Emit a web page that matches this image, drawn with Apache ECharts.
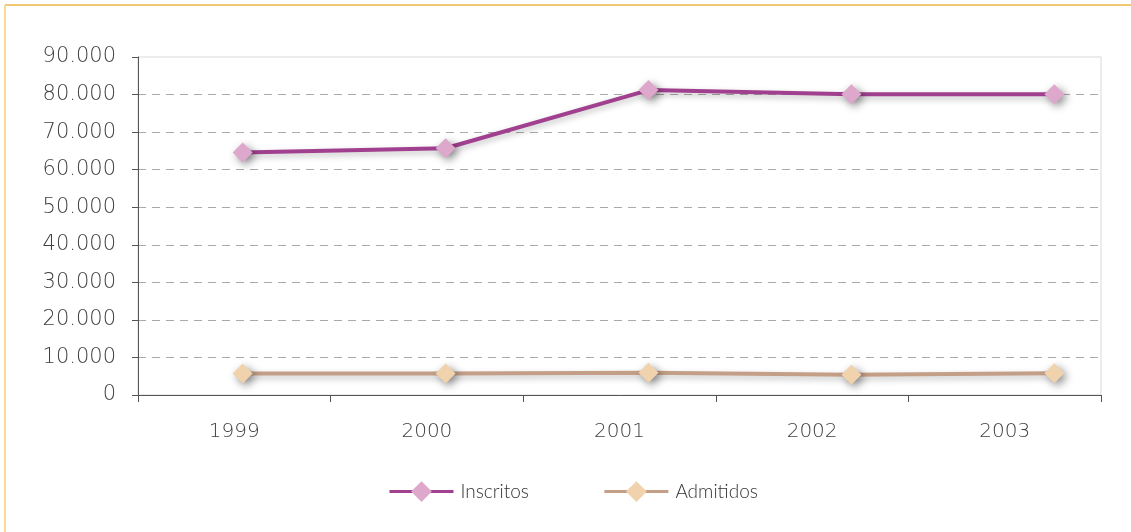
<!DOCTYPE html>
<html><head><meta charset="utf-8">
<script src="https://cdn.jsdelivr.net/npm/echarts@6/dist/echarts.min.js"></script>
<style>html,body{margin:0;padding:0;background:#fff}#c{width:1131px;height:532px}</style>
</head><body><div id="c"></div>
<script>
const categories = ['1999', '2000', '2001', '2002', '2003'];
const inscritos = [64600, 65700, 81200, 80100, 80100];
const admitidos = [5700, 5700, 5900, 5400, 5800];
const yTicks = [0, 10000, 20000, 30000, 40000, 50000, 60000, 70000, 80000, 90000];

const chart = echarts.init(document.getElementById('c'), null, {renderer: 'canvas'});
const font = 'DejaVu Sans';
const fw = 200;
const fmt = v => v === 0 ? '0' : String(v).replace(/\B(?=(\d{3})+(?!\d))/g, '.');
const yrs = categories.map(Number);
const shadow = {shadowBlur: 8, shadowColor: 'rgba(0,0,0,0.45)', shadowOffsetX: 3, shadowOffsetY: 3};

chart.setOption({
  animation: false,
  backgroundColor: '#fff',
  textStyle: {fontFamily: font, fontWeight: fw},
  graphic: [
    {type: 'line', shape: {x1: 5, y1: 5, x2: 1131, y2: 5}, style: {stroke: '#f0c873', lineWidth: 2}},
    {type: 'line', shape: {x1: 5, y1: 5, x2: 5, y2: 532}, style: {stroke: '#fbd995', lineWidth: 2}}
  ],
  grid: {left: 138, right: 30, top: 57, bottom: 137, show: true, borderColor: '#d9d9d9', borderWidth: 1},
  legend: {
    bottom: 25, left: 383, itemWidth: 64, itemHeight: 26, itemGap: 74,
    lineStyle: {width: 3},
    textStyle: {fontFamily: 'Lato', fontWeight: 300, fontSize: 19, color: '#333', padding: [0, 0, 0, 2]},
    data: ['Inscritos', 'Admitidos']
  },
  xAxis: [
    {
      type: 'category', data: categories, boundaryGap: true,
      axisLine: {lineStyle: {color: '#555', width: 1}},
      axisTick: {show: true, length: 7, lineStyle: {color: '#555'}},
      axisLabel: {margin: 27, fontSize: 20, color: '#404040', fontFamily: font, fontWeight: fw},
      splitLine: {show: false}
    },
    {type: 'value', show: false, min: 1998.484, max: 2003.23, gridIndex: 0}
  ],
  yAxis: {
    type: 'value', min: yTicks[0], max: yTicks[yTicks.length - 1], interval: yTicks[1] - yTicks[0],
    axisLine: {show: true, lineStyle: {color: '#555'}},
    axisTick: {show: true, length: 6, lineStyle: {color: '#555'}},
    axisLabel: {margin: 22, fontSize: 21, color: '#404040', fontFamily: font, fontWeight: fw, formatter: fmt},
    splitLine: {show: true, showMaxLine: false, lineStyle: {color: '#aaa', type: [8, 6], width: 1}}
  },
  series: [
    {
      name: 'Inscritos', type: 'line', xAxisIndex: 1,
      data: yrs.map((y, i) => [y, inscritos[i]]),
      symbol: 'diamond', symbolSize: 20,
      lineStyle: Object.assign({color: '#a0408f', width: 4}, {shadowBlur: 6, shadowColor: 'rgba(0,0,0,0.25)', shadowOffsetY: 3}),
      itemStyle: Object.assign({color: '#dda8cb'}, shadow)
    },
    {
      name: 'Admitidos', type: 'line', xAxisIndex: 1,
      data: yrs.map((y, i) => [y, admitidos[i]]),
      symbol: 'diamond', symbolSize: 20,
      lineStyle: Object.assign({color: '#c49f87', width: 4}, {shadowBlur: 6, shadowColor: 'rgba(0,0,0,0.25)', shadowOffsetY: 3}),
      itemStyle: Object.assign({color: '#f0d2ad'}, shadow)
    }
  ]
});
</script></body></html>
